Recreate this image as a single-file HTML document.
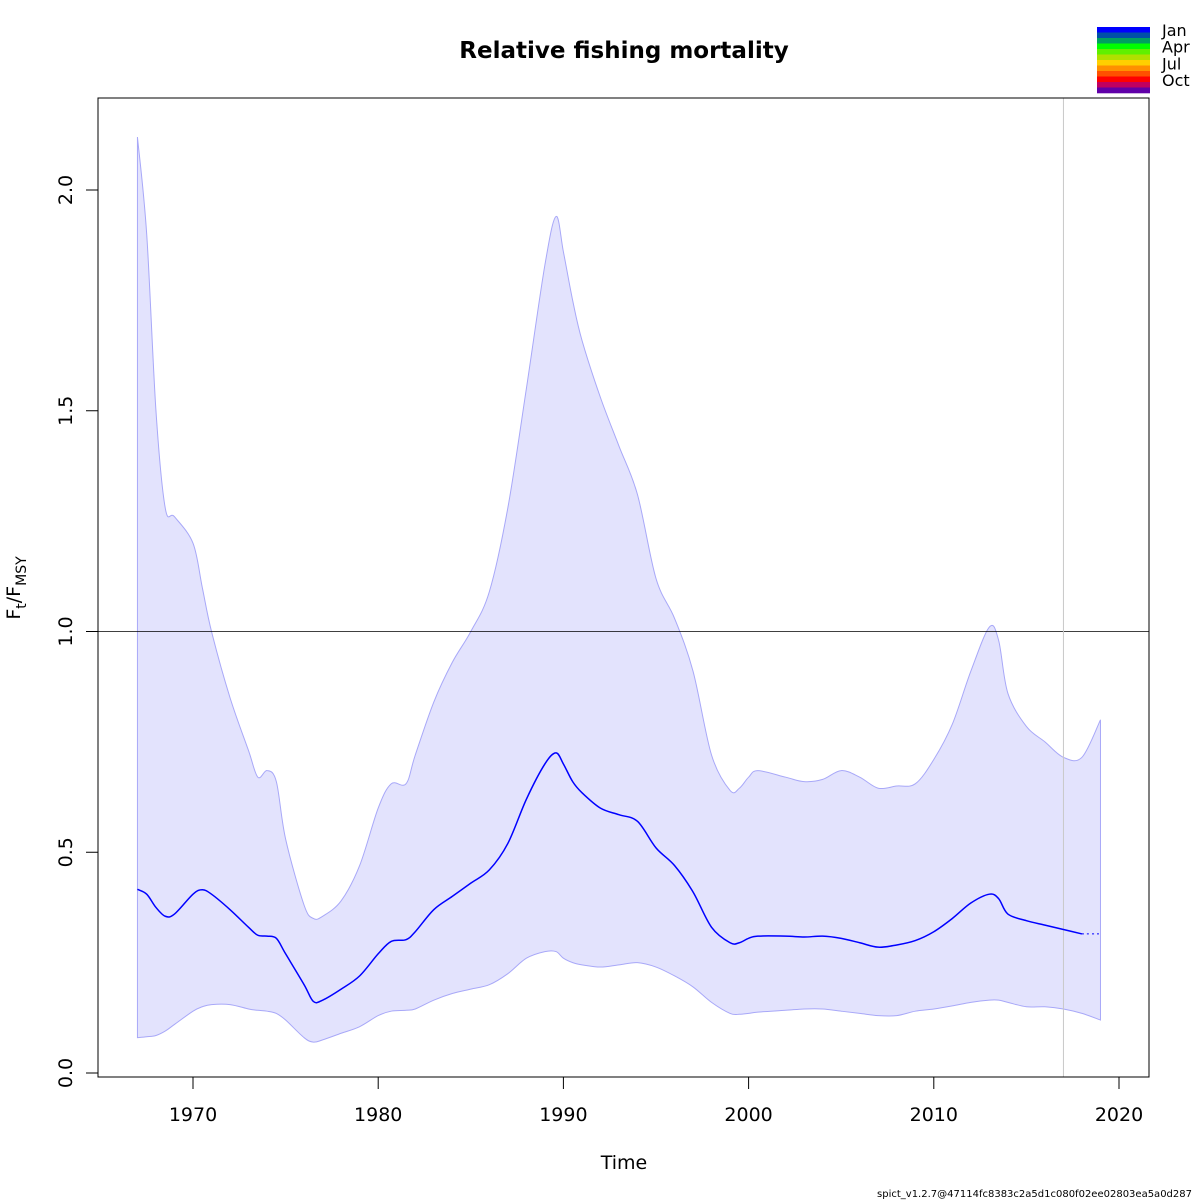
<!DOCTYPE html>
<html><head><meta charset="utf-8"><style>
html,body{margin:0;padding:0;background:#fff;}
svg{display:block;font-family:"DejaVu Sans","Liberation Sans",sans-serif;}
</style></head><body>
<svg id="chart" width="1200" height="1200" viewBox="0 0 1200 1200">
<text x="624" y="58" text-anchor="middle" font-size="23" font-weight="bold">Relative fishing mortality</text>
<g id="legend"></g>
<g id="plot"></g>
<rect x="98" y="98" width="1051" height="979" fill="none" stroke="#000" stroke-width="1"/>
<g id="xaxis"></g>
<g id="yaxis"></g>
<text x="624" y="1169" text-anchor="middle" font-size="19">Time</text>
<text transform="translate(20,588) rotate(-90)" text-anchor="middle" font-size="19">F<tspan font-size="14" dy="6">t</tspan><tspan dy="-6">/F</tspan><tspan font-size="14" dy="6">MSY</tspan></text>
<text x="1192" y="1197" text-anchor="end" font-size="10">spict_v1.2.7@47114fc8383c2a5d1c080f02ee02803ea5a0d287</text>
</svg>
<script>
const years = [1967,1967.5,1968,1968.5,1969,1970,1970.5,1971,1972,1973,1973.5,1974,1974.5,1975,1976,1976.5,1977,1978,1979,1980,1980.7,1981.5,1982,1983,1984,1985,1986,1987,1988,1989,1989.6,1990,1990.5,1991,1992,1993,1994,1995,1996,1997,1998,1999,1999.5,2000,2000.5,2002,2003,2004,2005,2006,2007,2008,2009,2010,2011,2012,2013,2013.5,2014,2015,2016,2017,2018,2019];
const medianF = [0.416,0.405,0.375,0.355,0.36,0.405,0.415,0.405,0.37,0.33,0.312,0.31,0.305,0.27,0.2,0.162,0.165,0.19,0.22,0.27,0.298,0.302,0.32,0.37,0.40,0.43,0.46,0.52,0.62,0.70,0.725,0.70,0.66,0.635,0.60,0.585,0.57,0.51,0.47,0.41,0.33,0.295,0.295,0.305,0.31,0.31,0.308,0.31,0.305,0.295,0.285,0.29,0.30,0.32,0.35,0.385,0.405,0.395,0.36,0.345,0.335,0.325,0.315,0.315];
const upperF = [2.12,1.9,1.5,1.28,1.26,1.2,1.1,1.0,0.85,0.73,0.67,0.685,0.66,0.53,0.38,0.35,0.355,0.39,0.47,0.60,0.655,0.655,0.72,0.84,0.93,1.0,1.09,1.28,1.55,1.83,1.94,1.86,1.75,1.66,1.53,1.42,1.31,1.12,1.03,0.91,0.72,0.64,0.645,0.67,0.685,0.67,0.66,0.665,0.685,0.67,0.645,0.65,0.655,0.71,0.79,0.91,1.01,0.98,0.86,0.785,0.75,0.715,0.715,0.80];
const lowerF = [0.08,0.082,0.085,0.095,0.11,0.14,0.15,0.155,0.155,0.145,0.142,0.14,0.135,0.12,0.08,0.07,0.075,0.09,0.105,0.13,0.14,0.142,0.145,0.165,0.18,0.19,0.2,0.225,0.26,0.275,0.275,0.26,0.25,0.245,0.24,0.245,0.25,0.24,0.22,0.195,0.16,0.135,0.133,0.135,0.138,0.142,0.145,0.145,0.14,0.135,0.13,0.13,0.14,0.145,0.152,0.16,0.165,0.165,0.16,0.15,0.15,0.145,0.135,0.12];
const xTicks = [1970,1980,1990,2000,2010,2020];
const yTicks = [0.0,0.5,1.0,1.5,2.0];
const yTickLabels = ["0.0","0.5","1.0","1.5","2.0"];
const refLineValue = 1.0;
const lastDataYear = 2017;
const medianEndYear = 2018;
const legendColors = ["#0000ff","#0050a8","#00a060","#00ff00","#60f000","#b0e000","#ffd000","#ff9000","#ff5000","#ff0000","#c00060","#6000a8"];
const legendLabels = ["Jan","Apr","Jul","Oct"];

const NS="http://www.w3.org/2000/svg";
const X = t => 193 + (t-1970)*(1119-193)/50;
const Y = v => 1073 - v*441.5;
function mk(tag, attrs, parent){const e=document.createElementNS(NS,tag);for(const k in attrs)e.setAttribute(k,attrs[k]);parent.appendChild(e);return e;}
function smooth(pts){
  let d=`M${pts[0][0]},${pts[0][1]}`;
  for(let i=0;i<pts.length-1;i++){
    const p0=pts[Math.max(0,i-1)],p1=pts[i],p2=pts[i+1],p3=pts[Math.min(pts.length-1,i+2)];
    const c1=[p1[0]+(p2[0]-p0[0])/6,p1[1]+(p2[1]-p0[1])/6];
    const c2=[p2[0]-(p3[0]-p1[0])/6,p2[1]-(p3[1]-p1[1])/6];
    d+=` C${c1[0]},${c1[1]} ${c2[0]},${c2[1]} ${p2[0]},${p2[1]}`;
  }
  return d;
}
const plot=document.getElementById('plot');
const up=years.map((t,i)=>[X(t),Y(upperF[i])]);
const lo=years.map((t,i)=>[X(t),Y(lowerF[i])]).reverse();
const bandD=smooth(up)+` L${lo[0][0]},${lo[0][1]} `+smooth(lo).replace(/^M/,'L')+' Z';
const band=mk('path',{d:bandD,fill:'#e3e3fd',stroke:'#a8a8f8','stroke-width':1},plot);


const ref=mk('line',{x1:98,x2:1149,y1:Y(refLineValue),y2:Y(refLineValue),stroke:'#000','stroke-width':0.8},plot);


const vl=mk('line',{x1:X(lastDataYear),x2:X(lastDataYear),y1:98,y2:1077,stroke:'#c8c8c8','stroke-width':1},plot);


const mIdx=years.filter(t=>t<=medianEndYear).length;
const mPts=years.slice(0,mIdx).map((t,i)=>[X(t),Y(medianF[i])]);
const med=mk('path',{d:smooth(mPts),fill:'none',stroke:'#0000ff','stroke-width':1.5},plot);


const fPts=years.slice(mIdx-1).map((t,i)=>[X(t),Y(medianF[mIdx-1+i])]);
const fc=mk('path',{d:smooth(fPts),fill:'none',stroke:'#0000ff','stroke-width':1,'stroke-dasharray':'2,3'},plot);



const xa=document.getElementById('xaxis');
xTicks.forEach(t=>{
  const l=mk('line',{x1:X(t),x2:X(t),y1:1077,y2:1089,stroke:'#000'},xa);
  
  
  const tx=mk('text',{x:X(t),y:1121,'text-anchor':'middle','font-size':19},xa);
  tx.textContent=t;
  
  
});
const ya=document.getElementById('yaxis');
yTicks.forEach((v,i)=>{
  const l=mk('line',{x1:86,x2:98,y1:Y(v),y2:Y(v),stroke:'#000'},ya);
  
  
  const tx=mk('text',{transform:`translate(72,${Y(v)}) rotate(-90)`,'text-anchor':'middle','font-size':19},ya);
  tx.textContent=yTickLabels[i];
  
  
});
const lg=document.getElementById('legend');
const bh=66/legendColors.length;
legendColors.forEach((c,i)=>{
  const r=mk('rect',{x:1097,y:27+i*bh,width:53,height:bh+0.3,fill:c},lg);
  
  
});
legendLabels.forEach((s,i)=>{
  const tx=mk('text',{x:1162,y:36+i*16.7,'font-size':16},lg);
  tx.textContent=s;
  
  
});
</script>
</body></html>
